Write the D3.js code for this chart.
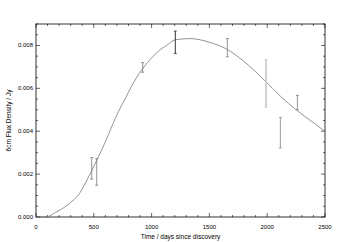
<!DOCTYPE html>
<html>
<head>
<meta charset="utf-8">
<script src="https://cdn.jsdelivr.net/npm/d3@7"></script>
<style>
  body { margin: 0; background: #fff; }
  text { font-family: "Liberation Sans", Arial, sans-serif; }
</style>
</head>
<body>
<div id="chart-area"></div>
<script>
// model curve (days, Jy)
const curveDays = [0, 87, 173, 288, 375, 476, 606, 692, 779, 865, 923, 1009, 1073, 1125, 1202, 1332, 1505, 1649, 1793, 1981, 2111, 2255, 2399, 2500];
const curveFlux = [0, 0, 0.00023, 0.00062, 0.00109, 0.0021, 0.00358, 0.00467, 0.0056, 0.00646, 0.00692, 0.00747, 0.0078, 0.00798, 0.00826, 0.00832, 0.00814, 0.00783, 0.00728, 0.00635, 0.00565, 0.00498, 0.0044, 0.00399];

// observations with error ranges
const obsDays = [482, 525, 923, 1205, 1655, 1990, 2114, 2261];
const obsLow  = [0.00177, 0.00148, 0.00675, 0.00762, 0.00747, 0.00512, 0.00322, 0.00501];
const obsHigh = [0.00277, 0.00272, 0.0072, 0.00867, 0.00832, 0.00734, 0.00464, 0.00567];
const obsColor = ["#777", "#777", "#777", "#333", "#777", "#ccc", "#888", "#777"];
const obsWidth = [0.8, 0.8, 0.8, 1, 0.8, 1.8, 0.8, 0.8];

const xTicks = [0, 500, 1000, 1500, 2000, 2500];
const yTicks = [0, 0.002, 0.004, 0.006, 0.008];

const margin = { left: 36, right: 37, top: 24, bottom: 25 };
const width = 362 - margin.left - margin.right, height = 242 - margin.top - margin.bottom;

const svg = d3.select("#chart-area").append("svg")
  .attr("width", 362).attr("height", 242);
const g = svg.append("g")
  .attr("transform", "translate(" + margin.left + "," + margin.top + ")");

const x = d3.scaleLinear().domain([0, 2500]).range([0, width]);
const y = d3.scaleLinear().domain([0, 0.009]).range([height, 0]);

// frame
g.append("rect").attr("width", width).attr("height", height)
  .attr("fill", "none").attr("stroke", "#000").attr("stroke-width", 0.8);

// ticks inward on all sides
const xMinor = d3.range(0, 2501, 100);
const yMinor = d3.range(0, 0.00901, 0.0005);
const isMajorX = d => d % 500 === 0;
const isMajorY = d => Math.abs(d / 0.002 - Math.round(d / 0.002)) < 1e-6;

function tickLines(sel, vals, fn) {
  sel.selectAll(null).data(vals).enter().append("line")
    .attr("stroke", "#000").attr("stroke-width", 0.6)
    .each(function(d) { fn(d3.select(this), d); });
}
tickLines(g, xMinor, (l, d) => { const L = isMajorX(d) ? 4 : 2;
  l.attr("x1", x(d)).attr("x2", x(d)).attr("y1", height).attr("y2", height - L); });
tickLines(g, xMinor, (l, d) => { const L = isMajorX(d) ? 4 : 2;
  l.attr("x1", x(d)).attr("x2", x(d)).attr("y1", 0).attr("y2", L); });
tickLines(g, yMinor, (l, d) => { const L = isMajorY(d) ? 4 : 2;
  l.attr("x1", 0).attr("x2", L).attr("y1", y(d)).attr("y2", y(d)); });
tickLines(g, yMinor, (l, d) => { const L = isMajorY(d) ? 4 : 2;
  l.attr("x1", width).attr("x2", width - L).attr("y1", y(d)).attr("y2", y(d)); });

// tick labels
g.selectAll(".xl").data(xTicks).enter().append("text")
  .attr("x", d => x(d)).attr("y", height + 12)
  .attr("text-anchor", "middle").attr("font-size", "6px")
  .text(d => d);
g.selectAll(".yl").data(yTicks).enter().append("text")
  .attr("x", -3).attr("y", d => y(d) + 2)
  .attr("text-anchor", "end").attr("font-size", "6px")
  .text(d => d3.format(".3f")(d));

// axis titles
g.append("text").attr("x", width / 2).attr("y", height + 22)
  .attr("text-anchor", "middle").attr("font-size", "6.5px")
  .text("Time / days since discovery");
g.append("text").attr("transform", "rotate(-90)")
  .attr("x", -height / 2).attr("y", -25)
  .attr("text-anchor", "middle").attr("font-size", "6.5px")
  .text("6cm Flux Density / Jy");

// model curve
const line = d3.line().x(d => x(d[0])).y(d => y(d[1])).curve(d3.curveMonotoneX);
g.append("path").datum(curveDays.map((d, i) => [d, curveFlux[i]]))
  .attr("d", line).attr("fill", "none").attr("stroke", "#777").attr("stroke-width", 0.8);

// error bars
const obs = obsDays.map((d, i) => ({ t: d, lo: obsLow[i], hi: obsHigh[i], c: obsColor[i], w: obsWidth[i] }));
const eb = g.selectAll(".eb").data(obs).enter().append("g");
eb.append("line").attr("x1", d => x(d.t)).attr("x2", d => x(d.t))
  .attr("y1", d => y(d.lo)).attr("y2", d => y(d.hi))
  .attr("stroke", d => d.c).attr("stroke-width", d => d.w);
eb.append("line").attr("x1", d => x(d.t) - 1.5).attr("x2", d => x(d.t) + 1.5)
  .attr("y1", d => y(d.lo)).attr("y2", d => y(d.lo))
  .attr("stroke", d => d.c).attr("stroke-width", 0.8);
eb.append("line").attr("x1", d => x(d.t) - 1.5).attr("x2", d => x(d.t) + 1.5)
  .attr("y1", d => y(d.hi)).attr("y2", d => y(d.hi))
  .attr("stroke", d => d.c).attr("stroke-width", 0.8);
</script>
</body>
</html>
